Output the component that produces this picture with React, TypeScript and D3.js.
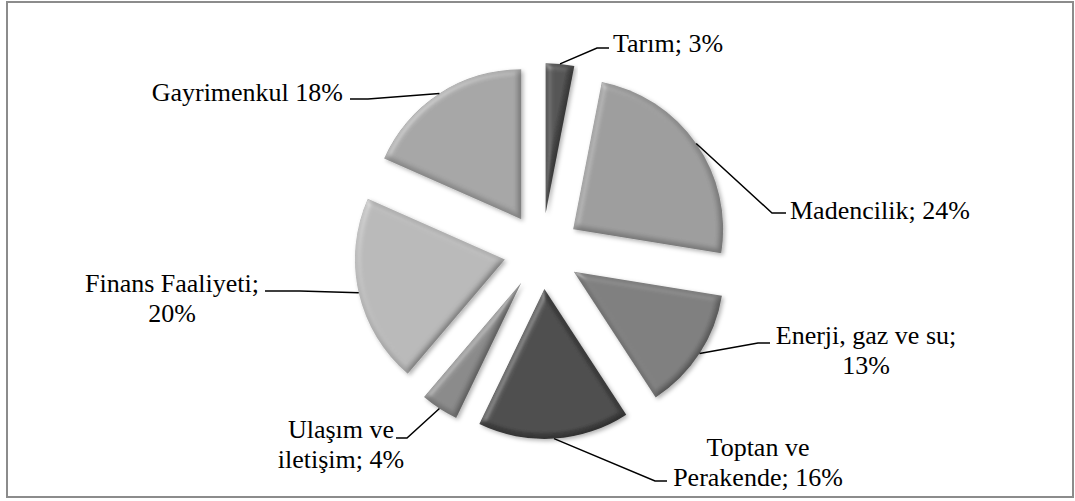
import React from "react";
import * as d3 from "d3";

// sector shares (%), clockwise from 12 o'clock
const categories = [
  "Tarım",
  "Madencilik",
  "Enerji, gaz ve su",
  "Toptan ve Perakende",
  "Ulaşım ve iletişim",
  "Finans Faaliyeti",
  "Gayrimenkul",
];
const values = [3, 24, 13, 16, 4, 20, 18];
const labelLines = [
  ["Tarım; 3%"],
  ["Madencilik; 24%"],
  ["Enerji, gaz ve su;", "13%"],
  ["Toptan ve", "Perakende; 16%"],
  ["Ulaşım ve", "iletişim; 4%"],
  ["Finans Faaliyeti;", "20%"],
  ["Gayrimenkul 18%"],
];
const colors = ["#4c4c4c", "#9b9b9b", "#7b7b7b", "#444444", "#878787", "#b8b8b8", "#a4a4a4"];

// label placement (layout only)
const labelLayout = [
  { x: 613, y: 52, anchor: "start", elbow: [597, 48], hx: 609 },
  { x: 790, y: 219, anchor: "start", elbow: [772, 213], hx: 786 },
  { x: 866, y: 344, anchor: "middle", elbow: [758, 343], hx: 770 },
  { x: 758, y: 456, anchor: "middle", elbow: [655, 481], hx: 667 },
  { x: 341, y: 438, anchor: "middle", elbow: [407, 438], hx: 396 },
  { x: 172, y: 292, anchor: "middle", elbow: [300, 291], hx: 265 },
  { x: 343, y: 101, anchor: "end", elbow: [368, 99], hx: 350 },
];

const W = 1075;
const H = 501;
const cx = 542;
const cy = 251;
const R = 150;
const EXPLODE = 38;
const LINE_H = 30;
const FONT = "Liberation Serif, DejaVu Serif, Noto Serif, serif";

export default function App() {
  const arcs = d3.pie<number>().sort(null).value((d) => d)(values);
  const arc = d3.arc<d3.PieArcDatum<number>>().innerRadius(0).outerRadius(R);

  return (
    <svg
      width={W}
      height={H}
      style={{ position: "absolute", left: 0, top: 0, display: "block", background: "#fff" }}
    >
      <defs>
        <filter id="bevel" x="-10%" y="-10%" width="120%" height="120%">
          <feGaussianBlur in="SourceAlpha" stdDeviation="3" result="blur" />
          <feDiffuseLighting in="blur" surfaceScale="3" diffuseConstant="1.1" lightingColor="#ffffff" result="diff">
            <feDistantLight azimuth={225} elevation={62} />
          </feDiffuseLighting>
          <feComposite in="SourceGraphic" in2="diff" operator="arithmetic" k1="1" k2="0" k3="0" k4="0" result="shaded" />
          <feSpecularLighting in="blur" surfaceScale="3" specularConstant="0.4" specularExponent="20" lightingColor="#ffffff" result="spec">
            <feDistantLight azimuth={225} elevation={40} />
          </feSpecularLighting>
          <feComposite in="spec" in2="SourceAlpha" operator="in" result="specIn" />
          <feComposite in="shaded" in2="specIn" operator="arithmetic" k1="0" k2="1" k3="0.45" k4="0" result="lit" />
          <feOffset in="SourceAlpha" dx="1.5" dy="2" result="off" />
          <feGaussianBlur in="off" stdDeviation="2" result="offBlur" />
          <feFlood floodColor="#000" floodOpacity="0.3" />
          <feComposite in2="offBlur" operator="in" result="shadow" />
          <feMerge>
            <feMergeNode in="shadow" />
            <feMergeNode in="lit" />
          </feMerge>
        </filter>
      </defs>

      <rect x={7} y={2} width={1066} height={495} fill="#fff" stroke="#8c8c8c" strokeWidth={2} />

      {arcs.map((a, i) => {
        const mid = (a.startAngle + a.endAngle) / 2;
        const ox = cx + EXPLODE * Math.sin(mid);
        const oy = cy - EXPLODE * Math.cos(mid);
        return (
          <path
            key={categories[i]}
            d={arc(a) || ""}
            transform={`translate(${ox},${oy})`}
            fill={colors[i]}
            filter="url(#bevel)"
          />
        );
      })}

      {arcs.map((a, i) => {
        const mid = (a.startAngle + a.endAngle) / 2;
        const sx = cx + (EXPLODE + R) * Math.sin(mid);
        const sy = cy - (EXPLODE + R) * Math.cos(mid);
        const L = labelLayout[i];
        const pts: [number, number][] = [
          [sx, sy],
          [L.elbow[0], L.elbow[1]],
          [L.hx, L.elbow[1]],
        ];
        return (
          <g key={"lab" + i}>
            <path d={d3.line()(pts) || ""} fill="none" stroke="#000" strokeWidth={1.5} />
            <text
              x={L.x}
              y={L.y}
              textAnchor={L.anchor as any}
              fill="#000"
              fontFamily={FONT}
              fontSize={26}
            >
              {labelLines[i].map((t, j) => (
                <tspan key={j} x={L.x} y={L.y + j * LINE_H}>
                  {t}
                </tspan>
              ))}
            </text>
          </g>
        );
      })}
    </svg>
  );
}
